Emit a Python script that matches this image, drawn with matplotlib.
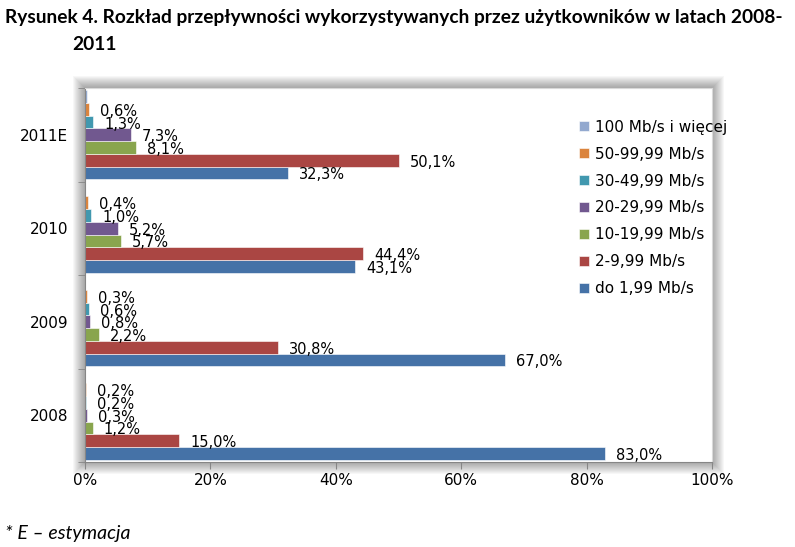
import matplotlib.pyplot as plt
from matplotlib.patches import Rectangle
import numpy as np

years = ['2008', '2009', '2010', '2011E']
series = ['do 1,99 Mb/s', '2-9,99 Mb/s', '10-19,99 Mb/s', '20-29,99 Mb/s',
          '30-49,99 Mb/s', '50-99,99 Mb/s', '100 Mb/s i więcej']
do_1_99 = [83.0, 67.0, 43.1, 32.3]
mb_2_9 = [15.0, 30.8, 44.4, 50.1]
mb_10_19 = [1.2, 2.2, 5.7, 8.1]
mb_20_29 = [0.3, 0.8, 5.2, 7.3]
mb_30_49 = [0.2, 0.6, 1.0, 1.3]
mb_50_99 = [0.2, 0.3, 0.4, 0.6]
mb_100 = [0.0, 0.0, 0.0, 0.3]
values = [do_1_99, mb_2_9, mb_10_19, mb_20_29, mb_30_49, mb_50_99, mb_100]
show_labels = [True, True, True, True, True, True, False]
colors = ['#4572A7', '#AA4643', '#89A54E', '#71588F', '#4198AF', '#DB843D', '#93A9CF']

W, H = 795, 547
fig = plt.figure(figsize=(W / 100, H / 100), dpi=100)

# plot area in pixels
L, R, T, B = 85, 712, 88, 462
ax = fig.add_axes([L / W, 1 - B / H, (R - L) / W, (B - T) / H])
ax.set_facecolor('white')

# soft shadow around the plot area
for k in range(1, 13):
    fig.patches.append(Rectangle(((L - k) / W, 1 - (B + k) / H), (R - L + 2 * k) / W,
                                 (B - T + 2 * k) / H, transform=fig.transFigure,
                                 facecolor='black', edgecolor='none', alpha=0.03, zorder=-1))

y = np.arange(len(years))
h = 0.136
for i, (name, vals) in enumerate(zip(series, values)):
    pos = y - 3 * h + i * h
    ax.barh(pos, vals, height=h, color=colors[i], edgecolor='white', linewidth=0.4, label=name)
    if show_labels[i]:
        for p, v in zip(pos, vals):
            ax.annotate(f'{v:.1f}%'.replace('.', ','), (v, p), xytext=(11, -2),
                        textcoords='offset pixels', va='center', ha='left',
                        fontsize=10.5, family='DejaVu Sans')

ax.set_xlim(0, 100)
ax.set_ylim(-0.5, 3.5)
ax.set_xticks([0, 20, 40, 60, 80, 100])
ax.set_xticklabels(['0%', '20%', '40%', '60%', '80%', '100%'], fontsize=11)
ax.set_yticks(y)
ax.set_yticklabels(years, fontsize=11)
ax.set_yticks(np.arange(-0.5, 4, 1), minor=True)
ax.tick_params(axis='y', which='major', length=0, pad=12)
ax.tick_params(axis='y', which='minor', length=5, color='#868686', direction='out')
ax.tick_params(axis='x', length=5, color='#868686', direction='out', pad=3)
for s in ['left', 'bottom']:
    ax.spines[s].set_color('#868686')
for s in ['top', 'right']:
    ax.spines[s].set_color('#d9d9d9')

handles, labels = ax.get_legend_handles_labels()
fig.legend(handles[::-1], labels[::-1], loc='upper left',
           bbox_to_anchor=(565 / W, 1 - 106 / H), frameon=False, fontsize=11,
           handlelength=0.65, handleheight=0.65, handletextpad=0.4, labelspacing=0.78)

fig.text(5 / W, 1 - 18 / H, 'Rysunek 4. Rozkład przepływności wykorzystywanych przez użytkowników w latach 2008-',
         family='Lato', weight='bold', fontsize=13.8, va='center', ha='left')
fig.text(72 / W, 1 - 45 / H, '2011', family='Lato', weight='bold', fontsize=13.8, va='center', ha='left')
fig.text(5 / W, 1 - 533 / H, '* E – estymacja', family='Lato', style='italic', fontsize=14,
         va='center', ha='left')

fig.savefig('out.png', dpi=100)
